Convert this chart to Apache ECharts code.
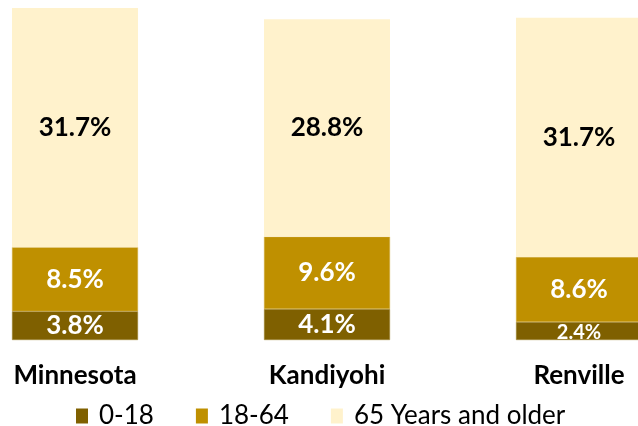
<!DOCTYPE html>
<html><head><meta charset="utf-8">
<script src="https://cdn.jsdelivr.net/npm/echarts@6/dist/echarts.min.js"></script>
<style>html,body{margin:0;padding:0;background:#fff;overflow:hidden;width:638px;height:426px;}#c{width:756px;height:426px;margin-left:-51px;}</style>
</head><body><div id="c"></div>
<script>
const categories = ['Minnesota', 'Kandiyohi', 'Renville'];
const seriesNames = ['0-18', '18-64', '65 Years and older'];
const age0to18 = [3.8, 4.1, 2.4];
const age18to64 = [8.5, 9.6, 8.6];
const age65plus = [31.7, 28.8, 31.7];

const FONT = 'Lato, "Open Sans", sans-serif';
const chart = echarts.init(document.getElementById('c'));
function lbl(color, size) {
  return {
    show: true, position: 'inside', color: color, fontFamily: FONT,
    fontWeight: 'bold', fontSize: size,
    formatter: p => p.value.toFixed(1) + '%'
  };
}
chart.setOption({
  animation: false,
  grid: { left: 0, right: 0, top: 8, bottom: 86, containLabel: false },
  legend: {
    data: seriesNames, top: 398, left: 122, itemWidth: 12, itemHeight: 15, itemGap: 42,
    icon: 'rect',
    itemStyle: { borderWidth: 0 },
    textStyle: { fontFamily: FONT, fontSize: 26, color: '#000', padding: [0, 0, 0, 6] }
  },
  xAxis: {
    type: 'category', data: categories,
    axisLine: { show: false }, axisTick: { show: false },
    axisLabel: { fontFamily: FONT, fontWeight: 'bold', fontSize: 26, color: '#000', margin: 23 }
  },
  yAxis: { type: 'value', min: 0, max: 44, show: false, splitLine: { show: false } },
  series: [
    { name: seriesNames[0], type: 'bar', stack: 'a', barWidth: '50%',
      data: age0to18.map(v => v < 3 ? { value: v, label: { fontSize: 20, offset: [0, 2] } } : v),
      itemStyle: { color: '#7F6000', borderColor: '#a58a3a', borderWidth: 0.5 },
      label: lbl('#fff', 26) },
    { name: seriesNames[1], type: 'bar', stack: 'a', barWidth: '50%', data: age18to64,
      itemStyle: { color: '#BF9000', borderColor: '#d4b04a', borderWidth: 0.5 },
      label: lbl('#fff', 26) },
    { name: seriesNames[2], type: 'bar', stack: 'a', barWidth: '50%', data: age65plus,
      itemStyle: { color: '#FFF2CC' },
      label: lbl('#000', 26) }
  ]
});
</script></body></html>
